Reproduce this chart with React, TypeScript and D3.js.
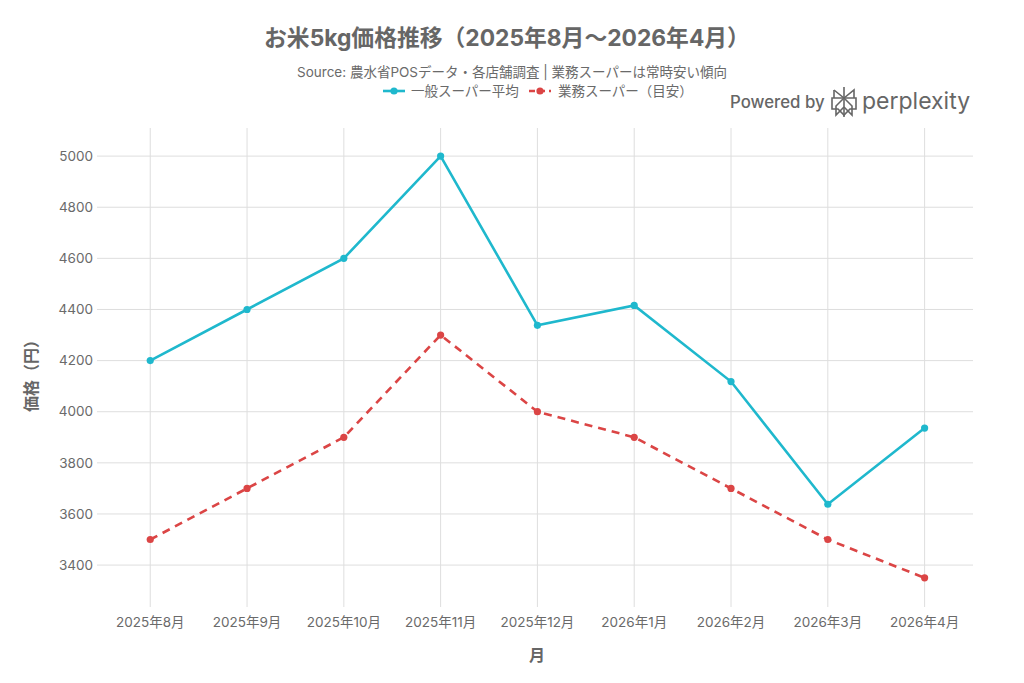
import React from 'react';
import * as d3 from 'd3';

const months = ['2025年8月', '2025年9月', '2025年10月', '2025年11月', '2025年12月', '2026年1月', '2026年2月', '2026年3月', '2026年4月'];
const generalPrices = [4200, 4400, 4600, 5000, 4338, 4416, 4118, 3638, 3936];
const gyomuPrices = [3500, 3700, 3900, 4300, 4000, 3900, 3700, 3500, 3350];
const yTicks = [3400, 3600, 3800, 4000, 4200, 4400, 4600, 4800, 5000];

const WIDTH = 1024;
const HEIGHT = 683;
const plot = { left: 97, right: 973, top: 128, bottom: 607 };
const FONT = "Inter, 'Noto Sans CJK JP', sans-serif";
const BLUE = '#1FB8CD';
const RED = '#DB4545';
const GRID = '#dedede';
const TEXT = '#6a6a6a';

const PerplexityMark = ({ x, y }: { x: number; y: number }) => (
  <g transform={`translate(${x},${y})`} fill="none" stroke="#666" strokeWidth={1.6} strokeLinejoin="miter">
    <path d="M12 0 V30" />
    <path d="M2 3 L12 11 L22 3 V11" />
    <path d="M2 3 V11" />
    <path d="M0 11 H24 V22 H18 L12 28 L6 22 H0 Z" />
    <path d="M12 11 L4 19 V28 L12 20" />
    <path d="M12 11 L20 19 V28 L12 20" />
  </g>
);

export default function App() {
  const x = d3.scaleLinear().domain([-0.55, 8.5]).range([plot.left, plot.right]);
  const y = d3.scaleLinear().domain([3236, 5110]).range([plot.bottom, plot.top]);
  const line = d3.line<number>().x((_, i) => x(i)).y(d => y(d));

  return (
    <svg width={WIDTH} height={HEIGHT} style={{ position: 'absolute', left: 0, top: 0, background: '#fff', fontFamily: FONT }}>
      <rect width={WIDTH} height={HEIGHT} fill="#fff" />

      {/* grid */}
      {yTicks.map(t => (
        <g key={t}>
          <line x1={plot.left} x2={plot.right} y1={y(t)} y2={y(t)} stroke={GRID} strokeWidth={1} />
          <text x={plot.left - 4} y={y(t)} dy="0.35em" textAnchor="end" fontSize={13.5} fill={TEXT}>{t}</text>
        </g>
      ))}
      {months.map((m, i) => (
        <g key={m}>
          <line x1={x(i)} x2={x(i)} y1={plot.top} y2={plot.bottom} stroke={GRID} strokeWidth={1} />
          <text x={x(i)} y={627} textAnchor="middle" fontSize={13.5} fill={TEXT}>{m}</text>
        </g>
      ))}

      {/* series */}
      <path d={line(gyomuPrices) || ''} fill="none" stroke={RED} strokeWidth={2.6} strokeDasharray="8 6" />
      {gyomuPrices.map((v, i) => <circle key={i} cx={x(i)} cy={y(v)} r={3.6} fill={RED} />)}
      <path d={line(generalPrices) || ''} fill="none" stroke={BLUE} strokeWidth={2.6} />
      {generalPrices.map((v, i) => <circle key={i} cx={x(i)} cy={y(v)} r={3.6} fill={BLUE} />)}

      {/* titles */}
      <text x={507} y={46} textAnchor="middle" fontSize={22.8} fontWeight={700} fill="#666">お米5kg価格推移（2025年8月〜2026年4月）</text>
      <text x={512} y={77} textAnchor="middle" fontSize={13.5} fill={TEXT}>Source: 農水省POSデータ・各店舗調査 | 業務スーパーは常時安い傾向</text>

      {/* legend */}
      <g fontSize={13.5} fill={TEXT}>
        <line x1={383} x2={405} y1={91} y2={91} stroke={BLUE} strokeWidth={2.6} />
        <circle cx={394} cy={91} r={3.6} fill={BLUE} />
        <text x={411} y={91} dy="0.35em">一般スーパー平均</text>
        <line x1={529} x2={551} y1={91} y2={91} stroke={RED} strokeWidth={2.6} strokeDasharray="6 4" />
        <circle cx={540} cy={91} r={3.6} fill={RED} />
        <text x={558} y={91} dy="0.35em">業務スーパー（目安）</text>
      </g>

      {/* axis titles */}
      <text transform={`translate(37,372) rotate(-90)`} textAnchor="middle" fontSize={16} fontWeight={700} fill="#666">価格（円）</text>
      <text x={537} y={661} textAnchor="middle" fontSize={16} fontWeight={700} fill="#666">月</text>

      {/* credit */}
      <text x={730} y={108} fontSize={16.8} fontWeight={500} fill="#666">Powered by</text>
      <PerplexityMark x={832} y={87} />
      <text x={862} y={109} fontSize={23} fill="#666">perplexity</text>
    </svg>
  );
}
